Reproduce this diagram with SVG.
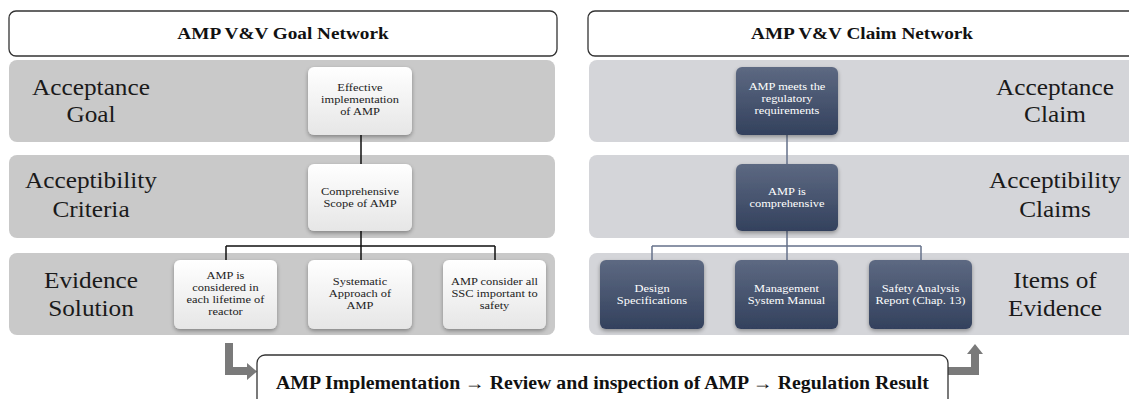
<svg xmlns="http://www.w3.org/2000/svg" width="1129" height="399" viewBox="0 0 1129 399" font-family="Liberation Serif">
  <defs>
    <linearGradient id="gWhite" x1="0" y1="0" x2="0" y2="1">
      <stop offset="0" stop-color="#ffffff"/>
      <stop offset="1" stop-color="#e6e6e6"/>
    </linearGradient>
    <linearGradient id="gSlate" x1="0" y1="0" x2="0" y2="1">
      <stop offset="0" stop-color="#5d6982"/>
      <stop offset="1" stop-color="#33415d"/>
    </linearGradient>
    <filter id="shadow" x="-20%" y="-20%" width="140%" height="150%">
      <feGaussianBlur in="SourceAlpha" stdDeviation="2"/>
      <feOffset dx="0" dy="2"/>
      <feComponentTransfer><feFuncA type="linear" slope="0.35"/></feComponentTransfer>
      <feMerge><feMergeNode/><feMergeNode in="SourceGraphic"/></feMerge>
    </filter>
  </defs>
  <style>
    .title { fill: #ffffff; stroke: #333333; stroke-width: 1.3; }
    .bandL { fill: #c9c9c9; }
    .bandR { fill: #d4d5d9; }
    .nodeL { fill: url(#gWhite); filter: url(#shadow); }
    .nodeR { fill: url(#gSlate); filter: url(#shadow); }
    .ttl { font-weight: bold; font-size: 17.5px; fill: #111; text-anchor: middle; }
    .flowtxt { font-weight: bold; font-size: 18px; fill: #111; text-anchor: middle; }
    .lbl { font-size: 23px; fill: #1a1a1a; text-anchor: middle; }
    .tL { font-size: 11.3px; fill: #222; text-anchor: middle; }
    .tR { font-size: 11.3px; fill: #ffffff; text-anchor: middle; }
    .cL { stroke: #111111; stroke-width: 1.5; fill: none; }
    .cR { stroke: #66728a; stroke-width: 1.5; fill: none; }
    .flow { fill: #7a7a7a; }
  </style>

  <!-- Left column: goal network -->
  <g id="goal-header">
    <rect class="title" x="9" y="11" width="548" height="45" rx="7"/>
    <text class="ttl" transform="translate(283 0) scale(1.1 1)" x="0" y="39">AMP V&amp;V Goal Network</text>
  </g>
  <g id="goal-bands">
    <rect class="bandL" x="9" y="60" width="546" height="82" rx="8"/>
    <rect class="bandL" x="9" y="155" width="546" height="83" rx="8"/>
    <rect class="bandL" x="9" y="253" width="546" height="82" rx="8"/>
    <text class="lbl" transform="translate(91 0) scale(1.1 1)"><tspan x="0" y="95">Acceptance</tspan><tspan x="0" y="122">Goal</tspan></text>
    <text class="lbl" transform="translate(91 0) scale(1.1 1)"><tspan x="0" y="188">Acceptibility</tspan><tspan x="0" y="217">Criteria</tspan></text>
    <text class="lbl" transform="translate(91 0) scale(1.1 1)"><tspan x="0" y="288">Evidence</tspan><tspan x="0" y="316">Solution</tspan></text>
  </g>

  <!-- Right column: claim network -->
  <g id="claim-header">
    <rect class="title" x="588" y="11" width="552" height="45" rx="7"/>
    <text class="ttl" transform="translate(862 0) scale(1.1 1)" x="0" y="39">AMP V&amp;V Claim Network</text>
  </g>
  <g id="claim-bands">
    <rect class="bandR" x="589" y="60" width="552" height="82" rx="8"/>
    <rect class="bandR" x="589" y="155" width="552" height="83" rx="8"/>
    <rect class="bandR" x="589" y="253" width="552" height="82" rx="8"/>
    <text class="lbl" transform="translate(1055 0) scale(1.1 1)"><tspan x="0" y="95">Acceptance</tspan><tspan x="0" y="122">Claim</tspan></text>
    <text class="lbl" transform="translate(1055 0) scale(1.1 1)"><tspan x="0" y="188">Acceptibility</tspan><tspan x="0" y="217">Claims</tspan></text>
    <text class="lbl" transform="translate(1055 0) scale(1.1 1)"><tspan x="0" y="288">Items of</tspan><tspan x="0" y="316">Evidence</tspan></text>
  </g>

  <!-- Connectors -->
  <g id="connectors">
    <path class="cL" d="M361 135 V164 M361 231 V246 M226 246 H495 M226 246 V260 M361 246 V260 M495 246 V260"/>
    <path class="cR" d="M787 135 V164 M787 231 V246 M652 246 H921 M652 246 V260 M787 246 V260 M921 246 V260"/>
  </g>

  <!-- Goal nodes -->
  <g id="goal-effective">
    <rect class="nodeL" x="308" y="67" width="104" height="68" rx="6"/>
    <text class="tL" transform="translate(360 0) scale(1.1 1)"><tspan x="0" y="91">Effective</tspan><tspan x="0" y="103">implementation</tspan><tspan x="0" y="115">of AMP</tspan></text>
  </g>
  <g id="goal-scope">
    <rect class="nodeL" x="308" y="164" width="104" height="67" rx="6"/>
    <text class="tL" transform="translate(360 0) scale(1.1 1)"><tspan x="0" y="195">Comprehensive</tspan><tspan x="0" y="207">Scope of AMP</tspan></text>
  </g>
  <g id="goal-lifetime">
    <rect class="nodeL" x="174" y="260" width="103" height="69" rx="6"/>
    <text class="tL" transform="translate(225.5 0) scale(1.1 1)"><tspan x="0" y="279">AMP is</tspan><tspan x="0" y="291">considered in</tspan><tspan x="0" y="303">each lifetime of</tspan><tspan x="0" y="315">reactor</tspan></text>
  </g>
  <g id="goal-systematic">
    <rect class="nodeL" x="308" y="260" width="104" height="69" rx="6"/>
    <text class="tL" transform="translate(360 0) scale(1.1 1)"><tspan x="0" y="285">Systematic</tspan><tspan x="0" y="297">Approach of</tspan><tspan x="0" y="309">AMP</tspan></text>
  </g>
  <g id="goal-ssc">
    <rect class="nodeL" x="443" y="260" width="103" height="69" rx="6"/>
    <text class="tL" transform="translate(494.5 0) scale(1.1 1)"><tspan x="0" y="285">AMP consider all</tspan><tspan x="0" y="297">SSC important to</tspan><tspan x="0" y="309">safety</tspan></text>
  </g>

  <!-- Claim nodes -->
  <g id="claim-regulatory">
    <rect class="nodeR" x="736" y="67" width="102" height="68" rx="6"/>
    <text class="tR" transform="translate(787 0) scale(1.1 1)"><tspan x="0" y="90">AMP meets the</tspan><tspan x="0" y="102">regulatory</tspan><tspan x="0" y="114">requirements</tspan></text>
  </g>
  <g id="claim-comprehensive">
    <rect class="nodeR" x="736" y="164" width="102" height="67" rx="6"/>
    <text class="tR" transform="translate(787 0) scale(1.1 1)"><tspan x="0" y="195">AMP is</tspan><tspan x="0" y="207">comprehensive</tspan></text>
  </g>
  <g id="claim-design">
    <rect class="nodeR" x="600" y="260" width="104" height="69" rx="6"/>
    <text class="tR" transform="translate(652 0) scale(1.1 1)"><tspan x="0" y="292">Design</tspan><tspan x="0" y="304">Specifications</tspan></text>
  </g>
  <g id="claim-manual">
    <rect class="nodeR" x="735" y="260" width="103" height="69" rx="6"/>
    <text class="tR" transform="translate(786.5 0) scale(1.1 1)"><tspan x="0" y="292">Management</tspan><tspan x="0" y="304">System Manual</tspan></text>
  </g>
  <g id="claim-sar">
    <rect class="nodeR" x="869" y="260" width="103" height="69" rx="6"/>
    <text class="tR" transform="translate(920.5 0) scale(1.1 1)"><tspan x="0" y="292">Safety Analysis</tspan><tspan x="0" y="304">Report (Chap. 13)</tspan></text>
  </g>

  <!-- Process flow banner -->
  <g id="process-flow">
    <path class="flow" d="M225 343 H233 V367 H247 V363 L257 371.5 L247 380 V375 H225 Z"/>
    <path class="flow" d="M948 367 H971 V354 H967 L975 344 L983 354 H979 V375 H948 Z"/>
    <rect class="title" x="257" y="355" width="691" height="60" rx="8"/>
    <text class="flowtxt" transform="translate(602.5 0) scale(1.1 1)" x="0" y="389">AMP Implementation → Review and inspection of AMP → Regulation Result</text>
  </g>
</svg>
